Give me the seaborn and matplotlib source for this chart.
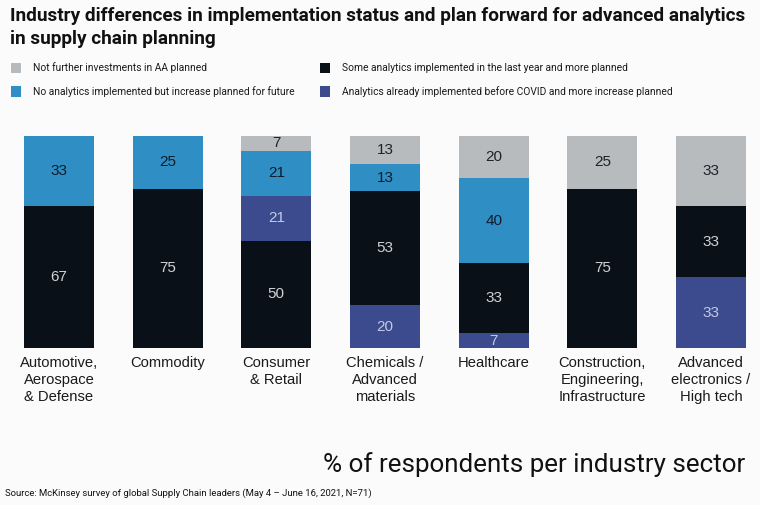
"""Stacked bar chart: advanced analytics status by industry sector."""

import matplotlib
matplotlib.use("Agg")
import matplotlib.pyplot as plt
from matplotlib.patches import Rectangle
import seaborn as sns

sns.set_theme(style="white")
plt.rcParams["font.family"] = ["Liberation Sans", "DejaVu Sans"]

categories = [
    "Automotive,\nAerospace\n& Defense",
    "Commodity",
    "Consumer\n& Retail",
    "Chemicals /\nAdvanced\nmaterials",
    "Healthcare",
    "Construction,\nEngineering,\nInfrastructure",
    "Advanced\nelectronics /\nHigh tech",
]
not_further = [0, 0, 7, 13, 20, 25, 33]
no_analytics = [33, 25, 21, 13, 40, 0, 0]
some_recent = [67, 75, 50, 53, 33, 75, 33]
pre_covid = [0, 0, 21, 20, 7, 0, 33]

series = {
    "not_further": not_further,
    "no_analytics": no_analytics,
    "some_recent": some_recent,
    "pre_covid": pre_covid,
}
legend_labels = {
    "not_further": "Not further investments in AA planned",
    "some_recent": "Some analytics implemented in the last year and more planned",
    "no_analytics": "No analytics implemented but increase planned for future",
    "pre_covid": "Analytics already implemented before COVID and more increase planned",
}
colors = {
    "not_further": "#b8bbbe",
    "no_analytics": "#2f8fc4",
    "some_recent": "#0a1017",
    "pre_covid": "#3b4b8d",
}
text_colors = {
    "not_further": "#1f2328",
    "no_analytics": "#0f1c2a",
    "some_recent": "#cfd2d6",
    "pre_covid": "#c3c9e4",
}
# bottom-to-top stacking order; Consumer & Retail is stacked differently
default_order = ["pre_covid", "some_recent", "no_analytics", "not_further"]
stack_orders = [default_order] * 7
stack_orders[2] = ["some_recent", "pre_covid", "no_analytics", "not_further"]

BG = "#fbfbfb"
W, H = 760, 505

fig = plt.figure(figsize=(7.6, 5.05), dpi=100, facecolor=BG)
ax = fig.add_axes([24 / W, 1 - 348 / H, (746 - 24) / W, (348 - 135.7) / H])
ax.set_facecolor(BG)

bar_w = 0.644
for i in range(len(categories)):
    total = sum(series[k][i] for k in default_order)
    bottom = 0.0
    for key in stack_orders[i]:
        val = series[key][i]
        if val == 0:
            continue
        h = val / total * 100
        ax.bar(i, h, bottom=bottom, width=bar_w, color=colors[key], linewidth=0)
        ax.text(i, bottom + h / 2, str(val), ha="center", va="center",
                fontsize=11, color=text_colors[key])
        bottom += h

ax.set_xlim(-bar_w / 2, len(categories) - 1 + bar_w / 2)
ax.set_ylim(0, 100)
ax.set_yticks([])
ax.set_xticks(range(len(categories)))
ax.set_xticklabels(categories, fontsize=10.6, color="#1a1a1a", linespacing=1.25,
                   va="top")
ax.tick_params(axis="x", length=0, pad=6)
sns.despine(ax=ax, left=True, bottom=True)

narrow = ["Roboto", "DejaVu Sans"]


def fig_text(x, y, s, **kw):
    return fig.text(x / W, 1 - y / H, s, **kw)


def fit_width(txt, target_px):
    renderer = fig.canvas.get_renderer()
    for _ in range(3):
        w = txt.get_window_extent(renderer).width
        txt.set_fontsize(txt.get_fontsize() * target_px / w)


t1 = fig_text(10, 16, "Industry differences in implementation status and plan forward for advanced analytics",
              fontsize=15, fontweight="bold", family=narrow, color="#111111", va="center")
t2 = fig_text(10, 39, "in supply chain planning",
              fontsize=15, fontweight="bold", family=narrow, color="#111111", va="center")

# legend
legend_pos = [
    ("not_further", 11, 68),
    ("some_recent", 320, 68),
    ("no_analytics", 11, 91.5),
    ("pre_covid", 320, 91.5),
]
leg_texts = []
for key, x, y in legend_pos:
    fig.patches.append(Rectangle((x / W, 1 - (y + 5) / H), 10 / W, 10 / H,
                                 transform=fig.transFigure, facecolor=colors[key],
                                 edgecolor="none"))
    leg_texts.append(fig_text(x + 22, y, legend_labels[key], fontsize=8.5,
                              family=narrow, color="#1a1a1a", va="center"))

big = fig_text(745, 465, "% of respondents per industry sector", fontsize=18,
               family=narrow, color="#111111", ha="right", va="center")
src = fig_text(5, 493, "Source: McKinsey survey of global Supply Chain leaders (May 4 \u2013 June 16, 2021, N=71)",
               fontsize=7, family=narrow, color="#111111", va="center")

fig.canvas.draw()
fit_width(t1, 735)
t2.set_fontsize(t1.get_fontsize())
fit_width(leg_texts[0], 174)
for t in leg_texts[1:]:
    t.set_fontsize(leg_texts[0].get_fontsize())
fit_width(big, 423)
fit_width(src, 362)

fig.savefig("out.png", dpi=100, facecolor=BG)
